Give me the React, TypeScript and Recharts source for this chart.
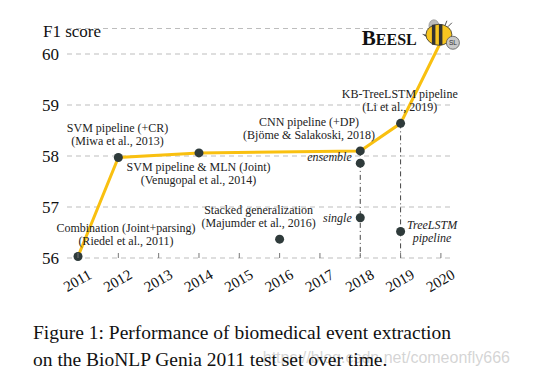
import { ComposedChart, Line, XAxis, YAxis, CartesianGrid, ReferenceDot } from "recharts";

// yearly best systems (yellow line)
const bestYears = [2011, 2012, 2014, 2018, 2019, 2020];
const bestF1 = [56.03, 57.97, 58.06, 58.1, 58.64, 60.24];

// other systems (dark dots only)
const otherYears = [2016, 2018, 2018, 2019];
const otherF1 = [56.37, 57.86, 56.79, 56.52];

const yearTicks = [2011, 2012, 2013, 2014, 2015, 2016, 2017, 2018, 2019, 2020];
const f1Ticks = [56, 57, 58, 59, 60];

const bestData = bestYears.map((year, i) => ({ year, f1: bestF1[i] }));
const otherData = otherYears.map((year, i) => ({ year, f1: otherF1[i] }));
// dash-dot drops for 2018 and 2019
const drop2018 = [{ year: 2018, f1: 58.1 }, { year: 2018, f1: 56 }];
const drop2019 = [{ year: 2019, f1: 58.64 }, { year: 2019, f1: 56 }];

const SERIF = "'Liberation Serif', 'Times New Roman', serif";
const YELLOW = "#F9C010";
const DARK = "#2F3B3B";

function YearTick(props: any) {
    const { x, y, payload } = props;
    return (
        <g>
            <line x1={x} x2={x} y1={y - 5} y2={y} stroke="#777" />
            <text
                transform={`translate(${x + 2},${y + 27}) rotate(-30)`}
                textAnchor="middle"
                fontFamily={SERIF}
                fontSize={15}
                fill="#111"
            >
                {payload.value}
            </text>
        </g>
    );
}

function Bee({ cx, cy }: any) {
    const bx = cx - 2;
    const by = cy - 7;
    return (
        <g>
            <ellipse cx={bx - 5} cy={by - 9} rx={5} ry={6} fill="#bbb" stroke="#888" strokeWidth={0.6} />
            <line x1={bx + 6} y1={by - 9} x2={bx + 8} y2={by - 14} stroke="#555" strokeWidth={1} />
            <line x1={bx + 9} y1={by - 8} x2={bx + 13} y2={by - 12} stroke="#555" strokeWidth={1} />
            <ellipse cx={bx} cy={by} rx={13} ry={10.5} fill="#F7C520" stroke="#333" strokeWidth={0.8} />
            <rect x={bx - 7} y={by - 10} width={3.5} height={20} fill="#333" />
            <rect x={bx} y={by - 10.5} width={3.5} height={21} fill="#333" />
            <polygon points={`${bx - 13},${by} ${bx - 17},${by - 1} ${bx - 13},${by + 2}`} fill="#333" />
            <circle cx={bx + 14} cy={by + 8} r={6.5} fill="#c9c9c9" stroke="#555" strokeWidth={0.8} />
            <text x={bx + 14} y={by + 10.5} textAnchor="middle" fontSize={6.5} fontFamily="'Liberation Sans', sans-serif" fill="#333">SL</text>
        </g>
    );
}

function renderBestDot(props: any) {
    const { cx, cy, index } = props;
    if (index === bestData.length - 1) return <Bee key={"bee"} cx={cx} cy={cy} />;
    return <circle key={"d" + index} cx={cx} cy={cy} r={4.5} fill={DARK} />;
}

function noteShape(lines: string[], anchor: "middle" | "end" = "middle", italic = false) {
    return (p: any) => {
        const lh = 13;
        const first = p.cy - ((lines.length - 1) * lh) / 2 + 4;
        return (
            <text
                x={p.cx}
                y={first}
                textAnchor={anchor}
                fontFamily={SERIF}
                fontSize={12}
                fontStyle={italic ? "italic" : "normal"}
                fill="#222"
            >
                {lines.map((l, i) => (
                    <tspan key={i} x={p.cx} dy={i === 0 ? 0 : lh}>{l}</tspan>
                ))}
            </text>
        );
    };
}

function beeslShape(p: any) {
    return (
        <text x={p.cx} y={p.cy + 6} textAnchor="middle" fontFamily={SERIF} fontWeight="bold" fill="#111">
            <tspan fontSize={21}>B</tspan>
            <tspan fontSize={16}>EESL</tspan>
        </text>
    );
}

export default function App() {
    return (
        <div style={{ position: "absolute", left: 0, top: 0, width: 546, height: 378, background: "#fff" }}>
            <div style={{ position: "absolute", left: 43, top: 22, fontFamily: SERIF, fontSize: 17, color: "#111" }}>
                F1 score
            </div>
            <ComposedChart
                width={546}
                height={300}
                margin={{ top: 28.5, right: 93, bottom: 2, left: 0 }}
            >
                <CartesianGrid vertical={false} stroke="#bdbdbd" strokeDasharray="5 4" />
                <XAxis
                    type="number"
                    dataKey="year"
                    domain={[2010.727, 2020.3]}
                    ticks={yearTicks}
                    axisLine={false}
                    tickLine={false}
                    tickSize={0}
                    tickMargin={0}
                    height={40}
                    tick={<YearTick />}
                    allowDecimals={false}
                />
                <YAxis
                    type="number"
                    domain={[56, 60.5]}
                    ticks={f1Ticks}
                    width={67}
                    axisLine={false}
                    tickLine={false}
                    tickSize={0}
                    tickMargin={8}
                    tick={{ fontFamily: SERIF, fontSize: 17, fill: "#111" }}
                />
                <Line data={drop2018} dataKey="f1" stroke="#444" strokeWidth={1} strokeDasharray="5 3 1 3" dot={false} isAnimationActive={false} />
                <Line data={drop2019} dataKey="f1" stroke="#444" strokeWidth={1} strokeDasharray="5 3 1 3" dot={false} isAnimationActive={false} />
                <Line
                    data={bestData}
                    dataKey="f1"
                    type="linear"
                    stroke={YELLOW}
                    strokeWidth={3}
                    dot={renderBestDot}
                    activeDot={false}
                    isAnimationActive={false}
                />
                <Line
                    data={otherData}
                    dataKey="f1"
                    stroke="none"
                    dot={{ r: 4.5, fill: DARK, stroke: "none" }}
                    activeDot={false}
                    isAnimationActive={false}
                />
                <ReferenceDot x={2011.98} y={58.42} r={0} shape={noteShape(["SVM pipeline (+CR)", "(Miwa et al., 2013)"])} />
                <ReferenceDot x={2013.99} y={57.65} r={0} shape={noteShape(["SVM pipeline & MLN (Joint)", "(Venugopal et al., 2014)"])} />
                <ReferenceDot x={2012.19} y={56.47} r={0} shape={noteShape(["Combination (Joint+parsing)", "(Riedel et al., 2011)"])} />
                <ReferenceDot x={2015.48} y={56.81} r={0} shape={noteShape(["Stacked generalization", "(Majumder et al., 2016)"])} />
                <ReferenceDot x={2016.73} y={58.53} r={0} shape={noteShape(["CNN pipeline (+DP)", "(Bjöme & Salakoski, 2018)"])} />
                <ReferenceDot x={2018.98} y={59.08} r={0} shape={noteShape(["KB-TreeLSTM pipeline", "(Li et al., 2019)"])} />
                <ReferenceDot x={2017.79} y={57.98} r={0} shape={noteShape(["ensemble"], "end", true)} />
                <ReferenceDot x={2017.79} y={56.79} r={0} shape={noteShape(["single"], "end", true)} />
                <ReferenceDot x={2019.78} y={56.52} r={0} shape={noteShape(["TreeLSTM", "pipeline"], "middle", true)} />
                <ReferenceDot x={2018.72} y={60.29} r={0} shape={beeslShape} />
            </ComposedChart>
            <div
                style={{
                    position: "absolute", right: 36, top: 349, fontFamily: "'Liberation Sans', Arial, sans-serif",
                    fontSize: 16, color: "rgba(170,170,170,0.5)", whiteSpace: "nowrap",
                }}
            >
                https://blog.csdn.net/comeonfly666
            </div>
            <div
                style={{
                    position: "absolute", left: 33, top: 319, fontFamily: SERIF, fontSize: 19.5,
                    lineHeight: "27px", color: "#111", whiteSpace: "nowrap",
                }}
            >
                Figure 1: Performance of biomedical event extraction
                <br />
                on the BioNLP Genia 2011 test set over time.
            </div>
        </div>
    );
}
